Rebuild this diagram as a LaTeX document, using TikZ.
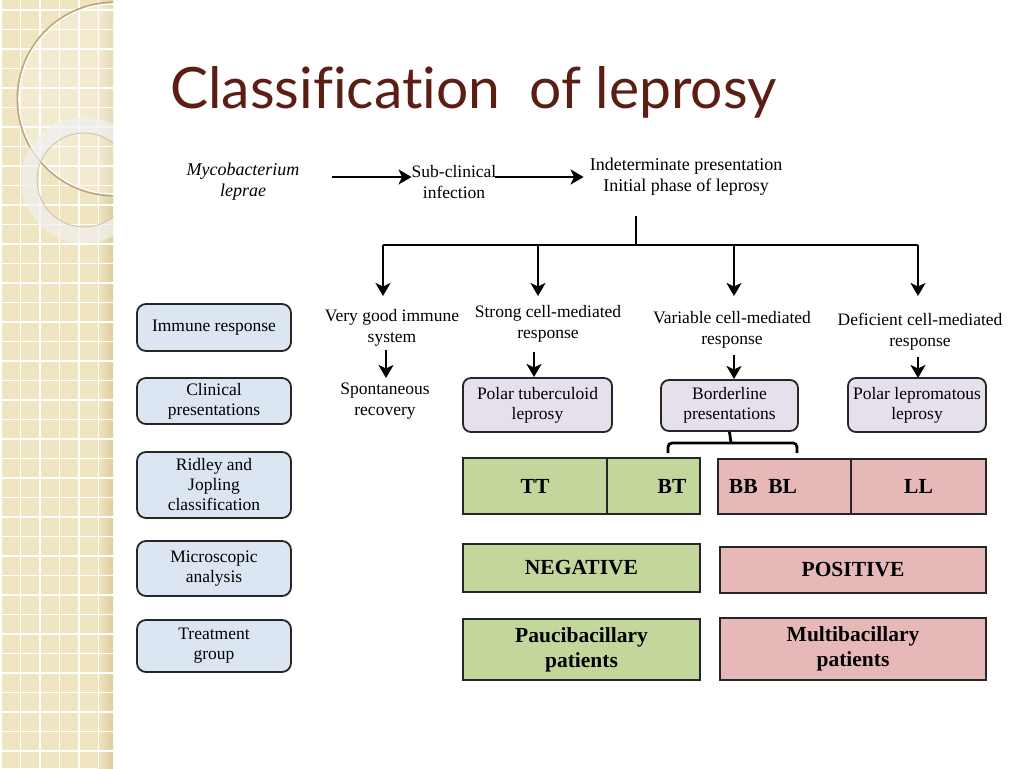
\documentclass[tikz,border=0pt]{standalone}
\usepackage{fontspec}
\setmainfont{Liberation Serif}
\newfontfamily\titlefont[Ligatures=NoCommon]{Lato}
\usetikzlibrary{arrows.meta}
\definecolor{beige}{RGB}{240,229,193}
\definecolor{beigedark}{RGB}{222,206,160}
\definecolor{ringbrown}{RGB}{190,165,120}
\definecolor{titlecol}{RGB}{92,30,20}
\definecolor{lblue}{RGB}{220,230,242}
\definecolor{lav}{RGB}{230,224,236}
\definecolor{gr}{RGB}{195,214,155}
\definecolor{rd}{RGB}{230,185,184}
\tikzset{
  txt/.style={align=center, inner sep=0, font=\fontsize{17.5}{21}\selectfont},
  lbox/.style={draw=black!85, line width=1.8, rounded corners=9, fill=lblue, align=center, inner sep=0, font=\fontsize{17.5}{20}\selectfont},
  pbox/.style={draw=black!85, line width=1.8, rounded corners=8, fill=lav, align=center, inner sep=0, font=\fontsize{17.5}{20}\selectfont},
  gbox/.style={draw=black!85, line width=1.8, fill=gr, align=center, inner sep=0, font=\fontsize{21.5}{25}\selectfont\bfseries},
  rbox/.style={draw=black!85, line width=1.8, fill=rd, align=center, inner sep=0, font=\fontsize{21.5}{25}\selectfont\bfseries},
  btxt/.style={anchor=center, inner sep=0, font=\fontsize{21.5}{25}\selectfont\bfseries},
  arr/.style={line width=2.8, -{Stealth[length=13, width=15, inset=3.5]}},
  ln/.style={line width=2.8},
}
\begin{document}
\begin{tikzpicture}[x=1pt,y=-1pt]
\useasboundingbox (0,0) rectangle (1024,768);
\fill[white] (0,0) rectangle (1024,768);
% left strip
\fill[beige] (0,0) rectangle (113,768);
\shade[left color=beige, right color=beigedark] (98,0) rectangle (113,768);
\foreach \i in {0,...,5} \draw[white, line width=1.3] (1+19.5*\i,0) -- (1+19.5*\i,768);
\foreach \j in {0,...,39} \draw[white, line width=1.3] (0,10+19.5*\j) -- (113,10+19.5*\j);
\begin{scope}
\clip (0,0) rectangle (113,768);
\fill[white, opacity=0.25] (114,99) circle (96);
\draw[ringbrown, line width=3] (114,99) circle (96);
\draw[white!90!beige, line width=1.6] (114,99) circle (95);
\fill[white!88!gray, opacity=0.7, even odd rule] (84,180) circle (63) (84,180) circle (47);
\draw[ringbrown!70, line width=0.8] (84,180) circle (47);
\end{scope}
% title
\node[anchor=base west, inner sep=0, text=titlecol, font=\titlefont\fontsize{57}{64}\selectfont] (title) at (170,108) {Classification\ \ of leprosy};
% top row
\node[txt, font=\fontsize{18}{21}\selectfont\itshape] (myco) at (243,182) {Mycobacterium\\leprae};
\node[txt] (sub) at (454,182) {Sub-clinical\\infection};
\node[txt, font=\fontsize{18}{21}\selectfont] (indet) at (686,177) {Indeterminate presentation\\Initial phase of leprosy};
\coordinate (a0) at (332,177);
\coordinate (b0) at (495,177);
\draw[arr] (a0) -- (a0 -| sub.west);
\draw[arr] (b0) -- ([xshift=-6]indet.west |- b0);
% tree
\coordinate (tj) at (636,245);
\draw[ln] (indet.south -| tj) ++(0,20) -- (tj);
\draw[ln] (383,245) -- (918,245);
\node[txt] (vg) at (392,328) {Very good immune\\system};
\node[txt] (st) at (548,324) {Strong cell-mediated\\response};
\node[txt] (va) at (732,330) {Variable cell-mediated\\response};
\node[txt] (de) at (920,332) {Deficient cell-mediated\\response};
\draw[arr] (383,245) -- (383,296);
\draw[arr] (538,245) -- (538,296);
\draw[arr] (734,245) -- (734,296);
\draw[arr] (918,245) -- (918,296);
% left column
\node[lbox, minimum width=154, minimum height=47] (imm) at (214,327.5) {Immune response};
\node[lbox, minimum width=154, minimum height=46] (cli) at (214,401) {Clinical\\presentations};
\node[lbox, minimum width=154, minimum height=66] (rid) at (214,485) {Ridley and\\Jopling\\classification};
\node[lbox, minimum width=154, minimum height=55] (mic) at (214,568.5) {Microscopic\\analysis};
\node[lbox, minimum width=154, minimum height=52] (tre) at (214,646) {Treatment\\group};
% second row
\node[txt] (sp) at (385,401) {Spontaneous\\recovery};
\node[pbox, minimum width=149, minimum height=54] (pt) at (537.5,405) {Polar tuberculoid\\leprosy};
\node[pbox, minimum width=137, minimum height=51] (bo) at (729.5,405.5) {Borderline\\presentations};
\node[pbox, minimum width=138, minimum height=54] (pl) at (917,405) {Polar lepromatous\\leprosy};
\draw[arr] (386,350) -- (386,378);
\draw[arr] (534,352) -- (534,377);
\draw[arr] (734,355) -- (734,379);
\draw[arr] (918,357) -- (918,378);
% bracket
\draw[ln] (bo.south) -- (731,443);
\draw[ln, rounded corners=4] (668,453) -- (668,443) -- (797,443) -- (797,453);
% classification boxes
\node[gbox, minimum width=144, minimum height=56] (tt) at (535,486) {TT};
\node[gbox, minimum width=93, minimum height=56] (bt) at (653.5,486) {};
\node[btxt] (btt) at (672,486) {BT};
\node[rbox, minimum width=133, minimum height=55] (bb) at (784.5,486.5) {};
\node[btxt] (bbt) at (763,486.5) {BB\ \ BL};
\node[rbox, minimum width=135, minimum height=55] (ll) at (918.5,486.5) {LL};
\node[gbox, minimum width=237, minimum height=48] (neg) at (581.5,568) {NEGATIVE};
\node[rbox, minimum width=266, minimum height=46] (pos) at (853,570) {POSITIVE};
\node[gbox, minimum width=237, minimum height=61] (pau) at (581.5,649.5) {Paucibacillary\\patients};
\node[rbox, minimum width=266, minimum height=62] (mul) at (853,649) {Multibacillary\\patients};
\end{tikzpicture}
\end{document}
